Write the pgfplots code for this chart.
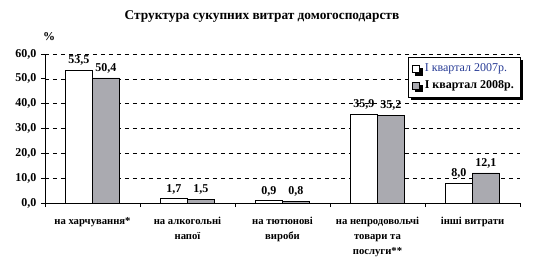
\documentclass[border=0pt]{standalone}
\usepackage{pgfplots}
\pgfplotsset{compat=1.18}
\usepackage{fontspec}
\setmainfont{Liberation Serif}
\usetikzlibrary{shadows}
\definecolor{barg}{RGB}{170,170,176}
\definecolor{legblue}{RGB}{40,60,150}
\begin{document}
\begin{tikzpicture}[x=1pt,y=1pt]
\path[use as bounding box] (-33.75,-46.5) rectangle (381.75,152.25);
\begin{axis}[
  at={(0,0)}, anchor=south west,
  scale only axis, width=356.25pt, height=111.75pt,
  ymin=0, ymax=60, xmin=-0.5, xmax=4.5,
  ybar=0pt, bar width=20.25pt,
  axis lines*=left,
  axis line style={black, line width=0.6pt},
  ytick={0,10,...,60},
  ymajorgrids, major grid style={dashed, black, line width=0.5pt},
  xtick={0,...,4},
  xticklabels={{на харчування*},{на алкогольні\\напої},{на тютюнові\\вироби},{на непродовольчі\\товари та\\послуги**},{інші витрати}},
  major x tick style={draw=none},
  minor xtick={-0.5,0.5,...,4.5},
  minor x tick style={black, line width=0.6pt},
  minor tick length=3pt, major tick length=3pt,
  tick align=outside,
  ytick style={black, line width=0.6pt},
  /pgf/number format/assume math mode=true,
  yticklabel style={font=\bfseries\fontsize{9}{10}\selectfont, /pgf/number format/fixed, /pgf/number format/fixed zerofill, /pgf/number format/precision=1, /pgf/number format/use comma},
  xticklabel style={font=\bfseries\fontsize{8}{11.25}\selectfont, align=center, yshift=-4pt},
  nodes near coords={\pgfmathprintnumber[fixed,fixed zerofill,precision=1,use comma,assume math mode=true]{\pgfplotspointmeta}},
  every node near coord/.append style={font=\bfseries\fontsize{9}{10}\selectfont, black},
  legend style={at={(0.764,0.98)}, anchor=north west, draw=black, fill=white, line width=0.5pt,
    font=\fontsize{9}{11}\selectfont, row sep=1pt, inner sep=3pt,
    drop shadow={shadow xshift=2pt, shadow yshift=-2pt, fill=black, opacity=1}},
  legend cell align=left,
  legend image code/.code={\draw[#1, line width=0.4pt] (0pt,-2.5pt) rectangle (5pt,2.5pt);},
]
\addplot[draw=black, fill=white, line width=0.5pt] coordinates {(0,53.5) (1,1.7) (2,0.9) (3,35.9) (4,8.0)};
\addplot[draw=black, fill=barg, line width=0.5pt] coordinates {(0,50.4) (1,1.5) (2,0.8) (3,35.2) (4,12.1)};
\legend{\hspace*{2pt}\textcolor{legblue}{I квартал 2007р.},\hspace*{2pt}\textbf{I квартал 2008р.}}
\end{axis}
\node[font=\bfseries\fontsize{9}{10}\selectfont] at (3,124.5) {\%};
\node[font=\bfseries\fontsize{10}{12}\selectfont] at (162.75,139.5) {Структура сукупних витрат домогосподарств};
\end{tikzpicture}
\end{document}
